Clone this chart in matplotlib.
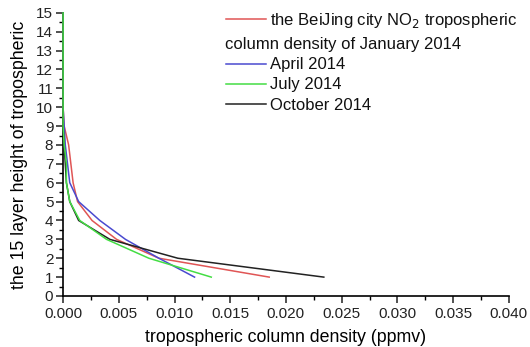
import numpy as np
import matplotlib
matplotlib.use('Agg')
import matplotlib.pyplot as plt
from matplotlib.ticker import MultipleLocator

plt.rcParams['font.family'] = ['Liberation Sans', 'DejaVu Sans']

# layer heights and NO2 column density (ppmv) per month
layers = [1, 2, 3, 4, 5, 6, 7, 8, 9, 10, 11, 12, 13, 14, 15]
january = [0.0185, 0.0086, 0.0048, 0.0026, 0.0013, 0.0009, 0.0007, 0.0005, 0.0001,
           0.0, 0.0, 0.0, 0.0, 0.0, 0.0]
april = [0.0118, 0.0086, 0.0056, 0.0033, 0.0014, 0.0006, 0.0004, 0.0002, 0.0001,
         0.0, 0.0, 0.0, 0.0, 0.0, 0.0]
july = [0.0133, 0.0077, 0.0039, 0.0015, 0.0006, 0.0003, 0.0003, 0.0001, 0.0,
        0.0, 0.0, 0.0, 0.0, 0.0, 0.0]
october = [0.0234, 0.0103, 0.0042, 0.0014, 0.0006, 0.0003, 0.0002, 0.0001, 0.0,
           0.0, 0.0, 0.0, 0.0, 0.0, 0.0]

fig = plt.figure(figsize=(5.30, 3.47), dpi=100)
ax = fig.add_axes([0.119, 0.147, 0.841, 0.816])

ax.plot(january, layers, color='#e05555', lw=1.1, clip_on=False, zorder=3)
ax.plot(april, layers, color='#4a4ad0', lw=1.1, clip_on=False, zorder=3)
ax.plot(october, layers, color='#222222', lw=1.1, clip_on=False, zorder=3)
ax.plot(july, layers, color='#44dd44', lw=1.1, clip_on=False, zorder=4)

ax.set_xlim(0, 0.040)
ax.set_ylim(0, 15)
ax.xaxis.set_major_locator(MultipleLocator(0.005))
ax.xaxis.set_minor_locator(MultipleLocator(0.0025))
ax.yaxis.set_major_locator(MultipleLocator(1))
ax.yaxis.set_minor_locator(MultipleLocator(0.5))
ax.xaxis.set_major_formatter(matplotlib.ticker.FormatStrFormatter('%.3f'))

for s in ['top', 'right']:
    ax.spines[s].set_visible(False)
for s in ['left', 'bottom']:
    ax.spines[s].set_linewidth(1.2)
ax.tick_params(which='major', direction='out', length=5, width=1.1, labelsize=11, colors='#222222')
ax.tick_params(which='minor', direction='out', length=3, width=1.0)
ax.tick_params(axis='x', pad=3)
ax.tick_params(axis='y', pad=2)

ax.set_xlabel('tropospheric column density (ppmv)', fontsize=12.8, labelpad=6)
ax.set_ylabel('the 15 layer height of tropospheric', fontsize=12.8, labelpad=6)

# legend drawn by hand so the first label wraps under its line
def px(x, y):
    return x / 530, 1 - y / 347

entries = [('#e05555', 19, 'the BeiJing city NO$_2$ tropospheric'),
           ('#4a4ad0', 64, 'April 2014'),
           ('#44dd44', 84, 'July 2014'),
           ('#222222', 104, 'October 2014')]
for color, yy, label in entries:
    x0, y0 = px(226, yy)
    x1, _ = px(266, yy)
    fig.add_artist(plt.Line2D([x0, x1], [y0, y0], color=color, lw=1.1, transform=fig.transFigure))
    tx, ty = px(270, yy + 1)
    fig.text(tx, ty, label, fontsize=12, va='center', ha='left', color='#111111')
tx, ty = px(225, 44)
fig.text(tx, ty, 'column density of January 2014', fontsize=12, va='center', ha='left', color='#111111')

fig.savefig('out.png', dpi=100)
